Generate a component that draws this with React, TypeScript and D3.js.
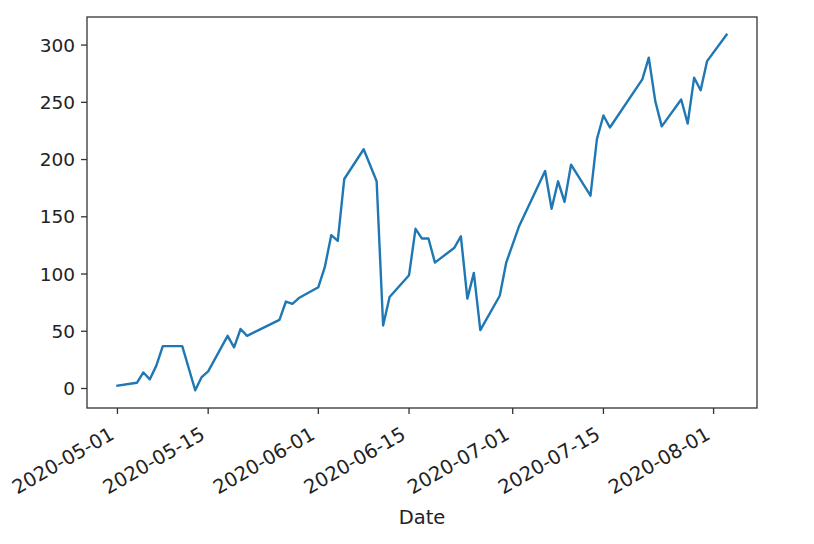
import React from "react";
import * as d3 from "d3";

const dates: string[] = [
  "2020-05-01", "2020-05-04", "2020-05-05", "2020-05-06", "2020-05-07", "2020-05-08",
  "2020-05-11", "2020-05-13", "2020-05-14", "2020-05-15", "2020-05-18", "2020-05-19",
  "2020-05-20", "2020-05-21", "2020-05-26", "2020-05-27", "2020-05-28", "2020-05-29",
  "2020-06-01", "2020-06-02", "2020-06-03", "2020-06-04", "2020-06-05", "2020-06-08",
  "2020-06-10", "2020-06-11", "2020-06-12", "2020-06-15", "2020-06-16", "2020-06-17",
  "2020-06-18", "2020-06-19", "2020-06-22", "2020-06-23", "2020-06-24", "2020-06-25",
  "2020-06-26", "2020-06-29", "2020-06-30", "2020-07-02", "2020-07-06", "2020-07-07",
  "2020-07-08", "2020-07-09", "2020-07-10", "2020-07-13", "2020-07-14", "2020-07-15",
  "2020-07-16", "2020-07-21", "2020-07-22", "2020-07-23", "2020-07-24", "2020-07-27",
  "2020-07-28", "2020-07-29", "2020-07-30", "2020-07-31", "2020-08-03",
];

const values: number[] = [
  2.5, 5, 14, 8, 20, 37,
  37, -1.5, 10, 15, 46, 36,
  52, 46, 60, 76, 74, 79,
  88.5, 106, 134, 129, 183, 209,
  181, 55, 80, 99, 139.5, 131,
  131, 110, 123, 133, 78.5, 101,
  51, 81, 110, 142, 190, 157,
  181, 163, 195.5, 168.5, 218, 238.5,
  228, 270, 289, 251, 229, 252.5,
  231.5, 271.5, 260.5, 286, 309,
];

const xTickLabels: string[] = [
  "2020-05-01", "2020-05-15", "2020-06-01", "2020-06-15", "2020-07-01", "2020-07-15", "2020-08-01",
];
const yTicks: number[] = [0, 50, 100, 150, 200, 250, 300];
const xLabel = "Date";

const W = 814;
const H = 544;
const plot = { left: 87, right: 757, top: 17, bottom: 408 };
const FONT = "'DejaVu Sans', sans-serif";
const FS = 18.5;
const FSX = 19.5;
const TEXT = "#222";

export default function App() {
  const parse = d3.utcParse("%Y-%m-%d");
  const pts = dates.map((d, i) => ({ date: parse(d) as Date, value: values[i] }));

  const [t0, t1] = d3.extent(pts, (p) => p.date.getTime()) as [number, number];
  const tPad = (t1 - t0) * 0.05;
  const x = d3.scaleUtc().domain([new Date(t0 - tPad), new Date(t1 + tPad)]).range([plot.left, plot.right]);

  const [v0, v1] = d3.extent(values) as [number, number];
  const vPad = (v1 - v0) * 0.05;
  const y = d3.scaleLinear().domain([v0 - vPad, v1 + vPad]).range([plot.bottom, plot.top]);

  const line = d3
    .line<{ date: Date; value: number }>()
    .x((p) => x(p.date))
    .y((p) => y(p.value));

  const tickLen = 6;

  return (
    <svg
      width={W}
      height={H}
      style={{ position: "absolute", left: 0, top: 0, background: "#fff" }}
      fontFamily={FONT}
    >
      <rect x={0} y={0} width={W} height={H} fill="#fff" />
      <path d={line(pts) || ""} fill="none" stroke="#1f77b4" strokeWidth={2.4} strokeLinejoin="round" strokeLinecap="square" />
      <rect
        x={plot.left}
        y={plot.top}
        width={plot.right - plot.left}
        height={plot.bottom - plot.top}
        fill="none"
        stroke="#333"
        strokeWidth={1.3}
      />
      {yTicks.map((t) => (
        <g key={t}>
          <line x1={plot.left - tickLen} x2={plot.left} y1={y(t)} y2={y(t)} stroke="#333" strokeWidth={1.3} />
          <text x={plot.left - tickLen - 6} y={y(t)} dy="0.36em" textAnchor="end" fontSize={FS} fill={TEXT}>
            {t}
          </text>
        </g>
      ))}
      {xTickLabels.map((s) => {
        const tx = x(parse(s) as Date);
        return (
          <g key={s}>
            <line x1={tx} x2={tx} y1={plot.bottom} y2={plot.bottom + tickLen} stroke="#333" strokeWidth={1.3} />
            <text
              transform={`translate(${tx - 2},${plot.bottom + 30}) rotate(-30)`}
              textAnchor="end"
              fontSize={FSX}
              fill={TEXT}
            >
              {s}
            </text>
          </g>
        );
      })}
      <text x={(plot.left + plot.right) / 2} y={524} textAnchor="middle" fontSize={FSX} fill={TEXT}>
        {xLabel}
      </text>
    </svg>
  );
}
